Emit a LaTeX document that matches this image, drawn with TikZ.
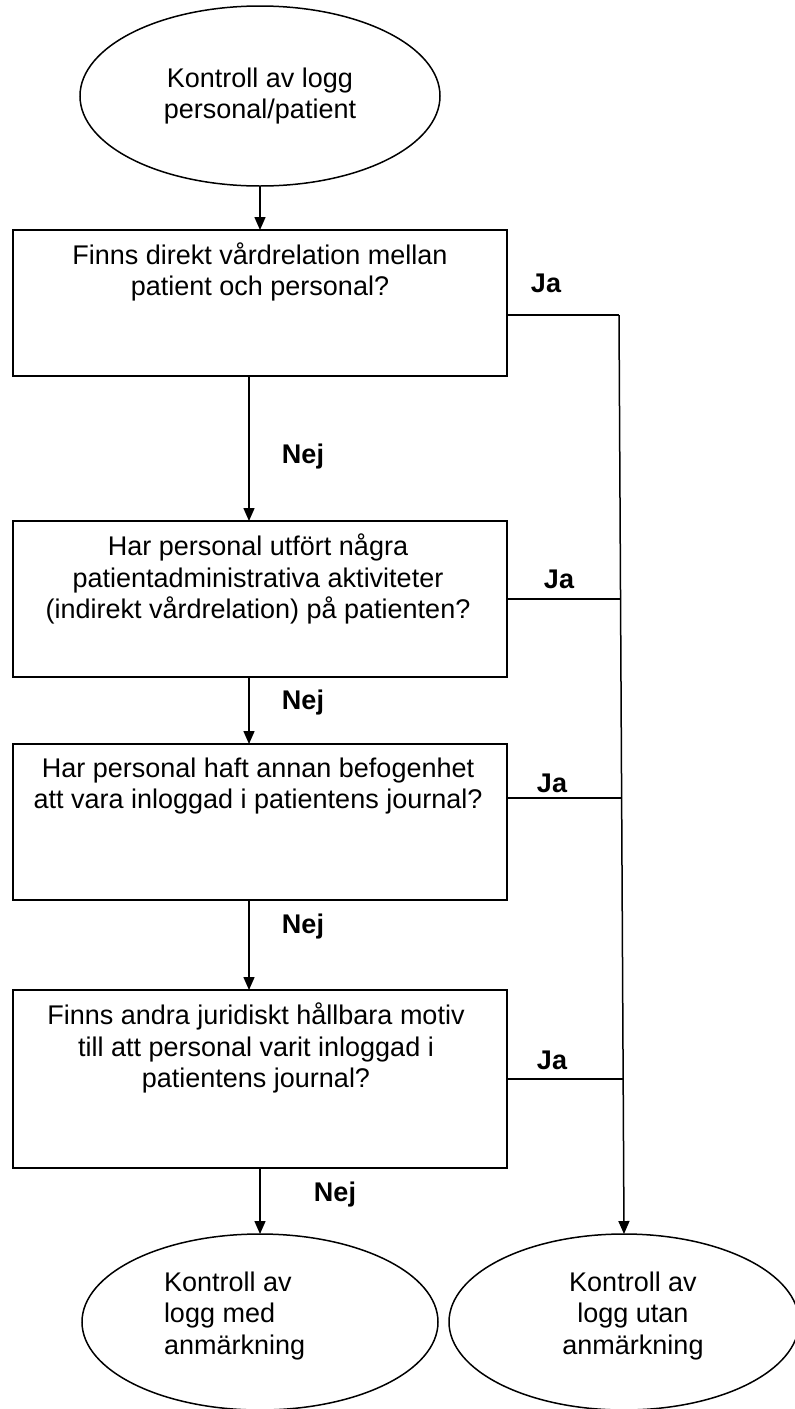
\documentclass[tikz,border=0pt]{standalone}
\usepackage{fontspec}
\setmainfont{Liberation Sans}
\usetikzlibrary{arrows.meta,shapes.geometric}
\begin{document}
\begin{tikzpicture}[x=1pt,y=-1pt,
  every node/.style={font=\fontsize{27}{31.5}\selectfont, inner sep=0pt, outer sep=0pt},
  line/.style={draw=black, line width=1.5pt},
  arr/.style={line, -{Triangle[length=13pt,width=11pt]}},
  qbox/.style={draw, line width=1.5pt, minimum width=494pt},
  oval/.style={ellipse, draw, line width=1.5pt},
  lbl/.style={font=\fontsize{27}{31.5}\selectfont\bfseries},
  txt/.style={align=center}]
\useasboundingbox[fill=white] (0,0) rectangle (795,1409);
\clip (0,0) rectangle (795,1409);

% start
\node[oval, minimum width=360pt, minimum height=180pt, align=center] (e0) at (260,96) {Kontroll av logg\\personal/patient};

% question boxes
\node[qbox, minimum height=146pt] (b1) at (260,303) {};
\node[txt] (t1) at (260,272) {Finns direkt vårdrelation mellan\\patient och personal?};

\node[qbox, minimum height=156pt] (b2) at (260,599) {};
\node[txt] (t2) at (258,579) {Har personal utfört några\\patientadministrativa aktiviteter\\(indirekt vårdrelation) på patienten?};

\node[qbox, minimum height=156pt] (b3) at (260,822) {};
\node[txt] (t3) at (258,786) {Har personal haft annan befogenhet\\att vara inloggad i patientens journal?};

\node[qbox, minimum height=178pt] (b4) at (260,1079) {};
\node[txt] (t4) at (256,1048) {Finns andra juridiskt hållbara motiv\\till att personal varit inloggad i\\patientens journal?};

% end ovals
\node[oval, minimum width=356pt, minimum height=176pt] (e1) at (260,1322) {};
\node[align=left, anchor=west] (t5) at (164,1316) {Kontroll av\\logg med\\anmärkning};
\node[oval, minimum width=350pt, minimum height=176pt] (e2) at (624,1322) {};
\node[txt] (t6) at (633,1316) {Kontroll av\\logg utan\\anmärkning};

% Nej flow
\draw[arr] (e0.south) -- (b1.north);
\draw[arr] ([xshift=-11pt]b1.south) -- ([xshift=-11pt]b2.north);
\draw[arr] ([xshift=-11pt]b2.south) -- ([xshift=-11pt]b3.north);
\draw[arr] ([xshift=-11pt]b3.south) -- ([xshift=-11pt]b4.north);
\draw[arr] (b4.south) -- (e1.north);

\node[lbl] (n1) at (303,457) {Nej};
\node[lbl] (n2) at (303,703) {Nej};
\node[lbl] (n3) at (303,927) {Nej};
\node[lbl] (n4) at (335,1195) {Nej};

% Ja flow
\coordinate (j1) at (619,315);
\coordinate (j2) at (620.5,599);
\coordinate (j3) at (621.6,798);
\coordinate (j4) at (623.2,1079);
\draw[line] (b1.east |- j1) -- (j1);
\draw[line] (b2.east |- j2) -- (j2);
\draw[line] (b3.east |- j3) -- (j3);
\draw[line] (b4.east |- j4) -- (j4);
\draw[arr] (j1) -- (e2.north);

\node[lbl] (y1) at (546,283) {Ja};
\node[lbl] (y2) at (559,579) {Ja};
\node[lbl] (y3) at (552,783) {Ja};
\node[lbl] (y4) at (552,1060) {Ja};
\end{tikzpicture}
\end{document}
